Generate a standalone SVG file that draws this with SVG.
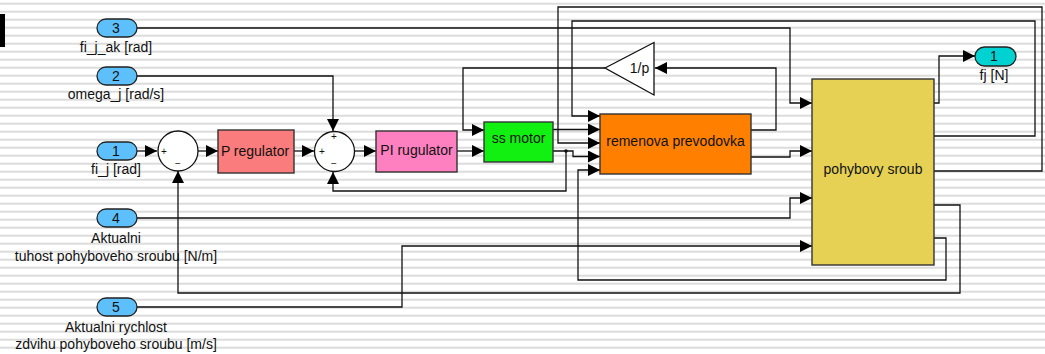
<svg xmlns="http://www.w3.org/2000/svg" width="1045" height="354" viewBox="0 0 1045 354">
  <defs>
    <pattern id="rows" x="0" y="0" width="1045" height="8" patternUnits="userSpaceOnUse">
      <rect x="0" y="2.7" width="1045" height="2" fill="#dcdcdc"/>
    </pattern>
    <marker id="arr" markerUnits="userSpaceOnUse" markerWidth="12" markerHeight="12" refX="12" refY="6" orient="auto">
      <path d="M0,0 L12,6 L0,12 z" fill="#000"/>
    </marker>
    <style>
      .wire { fill: none; stroke: #111; stroke-width: 1.3; marker-end: url(#arr); }
      .wire-plain { fill: none; stroke: #111; stroke-width: 1.3; }
      .blk { stroke: #333; stroke-width: 1.4; }
      .port-in { fill: #5ec0fa; stroke: #222; stroke-width: 1.3; }
      .port-out { fill: #00d2d2; stroke: #222; stroke-width: 1.3; }
      .sum { fill: #fff; stroke: #111; stroke-width: 1.3; }
      text { font-family: "Liberation Sans", Arial, sans-serif; font-size: 14px; fill: #111; }
      .lbl { text-anchor: middle; }
      .sign { font-size: 10px; text-anchor: middle; }
    </style>
  </defs>

  <!-- striped canvas -->
  <rect x="0" y="0" width="1045" height="354" fill="#fff"/>
  <rect x="0" y="0" width="1045" height="354" fill="url(#rows)"/>
  <rect x="0" y="14" width="5" height="33" fill="#000"/>

  <!-- signal lines -->
  <g id="connectors">
    <polyline class="wire" points="137,28 790,28 790,103 812,103"/>
    <polyline class="wire" points="137,76 333,76 333,131"/>
    <polyline class="wire" points="137,151 157,151"/>
    <polyline class="wire" points="198,151 218,151"/>
    <polyline class="wire" points="294,151 314,151"/>
    <polyline class="wire" points="355,151 376,151"/>
    <polyline class="wire" points="457,151 484,151"/>
    <polyline class="wire" points="605,68 463,68 463,130 484,130"/>
    <polyline class="wire" points="553,129.5 600,129.5"/>
    <polyline class="wire" points="553,151 573,151 573,156.5 600,156.5"/>
    <polyline class="wire" points="566,151 566,191 333,191 333,172"/>
    <circle cx="566" cy="151" r="1.8" fill="#111"/>
    <polyline class="wire" points="751,130 776,130 776,68 655,68"/>
    <polyline class="wire" points="751,157 790,157 790,151 812,151"/>
    <polyline class="wire" points="137,218 790,218 790,198 812,198"/>
    <polyline class="wire" points="137,307 402,307 402,246 812,246"/>
    <polyline class="wire" points="934,103 939,103 939,56 975,56"/>
    <polyline class="wire" points="934,136 1035,136 1035,21 572,21 572,116 600,116"/>
    <polyline class="wire" points="934,171 1042,171 1042,7 558,7 558,143 600,143"/>
    <polyline class="wire" points="934,205 960,205 960,293 178,293 178,171"/>
    <polyline class="wire" points="934,238 946,238 946,280 578,280 578,170 600,170"/>
  </g>

  <!-- inports -->
  <g id="in3">
    <rect class="port-in" x="97" y="19" width="40" height="18" rx="9"/>
    <text class="lbl" x="116" y="33">3</text>
    <text class="lbl" x="116" y="52">fi_j_ak [rad]</text>
  </g>
  <g id="in2">
    <rect class="port-in" x="97" y="67" width="40" height="18" rx="9"/>
    <text class="lbl" x="116" y="81">2</text>
    <text class="lbl" x="116" y="99">omega_j [rad/s]</text>
  </g>
  <g id="in1">
    <rect class="port-in" x="97" y="142" width="40" height="18" rx="9"/>
    <text class="lbl" x="116" y="156">1</text>
    <text class="lbl" x="116" y="174">fi_j [rad]</text>
  </g>
  <g id="in4">
    <rect class="port-in" x="97" y="209" width="40" height="18" rx="9"/>
    <text class="lbl" x="116" y="223">4</text>
    <text class="lbl" x="116" y="243">Aktualni</text>
    <text class="lbl" x="116" y="261">tuhost pohyboveho sroubu [N/m]</text>
  </g>
  <g id="in5">
    <rect class="port-in" x="97" y="298" width="40" height="18" rx="9"/>
    <text class="lbl" x="116" y="312">5</text>
    <text class="lbl" x="116" y="332">Aktualni rychlost</text>
    <text class="lbl" x="116" y="349">zdvihu pohyboveho sroubu [m/s]</text>
  </g>

  <!-- summing junctions -->
  <g id="sum1">
    <circle class="sum" cx="178" cy="151" r="20"/>
    <text class="sign" x="164" y="155">+</text>
    <text class="sign" x="178" y="167">−</text>
  </g>
  <g id="sum2">
    <circle class="sum" cx="334.5" cy="151.5" r="20"/>
    <text class="sign" x="334" y="140">+</text>
    <text class="sign" x="322" y="155">+</text>
    <text class="sign" x="334" y="167">−</text>
  </g>

  <!-- blocks -->
  <g id="p_regulator">
    <rect class="blk" x="218" y="130" width="76" height="43" fill="#fa7c7c"/>
    <text class="lbl" x="255" y="156">P regulator</text>
  </g>
  <g id="pi_rugulator">
    <rect class="blk" x="376" y="131" width="81" height="41" fill="#ff80c0"/>
    <text class="lbl" x="416.5" y="155">PI rugulator</text>
  </g>
  <g id="ss_motor">
    <rect class="blk" x="484" y="122" width="69" height="40" fill="#11f011"/>
    <text class="lbl" x="518.5" y="143">ss motor</text>
  </g>
  <g id="gain_1p">
    <polygon points="605,68 654,42.5 654,95" fill="#fff" stroke="#111" stroke-width="1.3"/>
    <text class="lbl" x="639.5" y="73">1/p</text>
  </g>
  <g id="remenova_prevodovka">
    <rect class="blk" x="600" y="114" width="151" height="60" fill="#ff8000"/>
    <text class="lbl" x="675.5" y="146">remenova prevodovka</text>
  </g>
  <g id="pohybovy_sroub">
    <rect class="blk" x="812" y="79" width="122" height="186" fill="#e6d155"/>
    <text class="lbl" x="873" y="174">pohybovy sroub</text>
  </g>

  <!-- outport -->
  <g id="out1">
    <rect class="port-out" x="975" y="47" width="41" height="19" rx="9.5"/>
    <text class="lbl" x="994" y="61">1</text>
    <text class="lbl" x="994" y="80">fj [N]</text>
  </g>
</svg>
